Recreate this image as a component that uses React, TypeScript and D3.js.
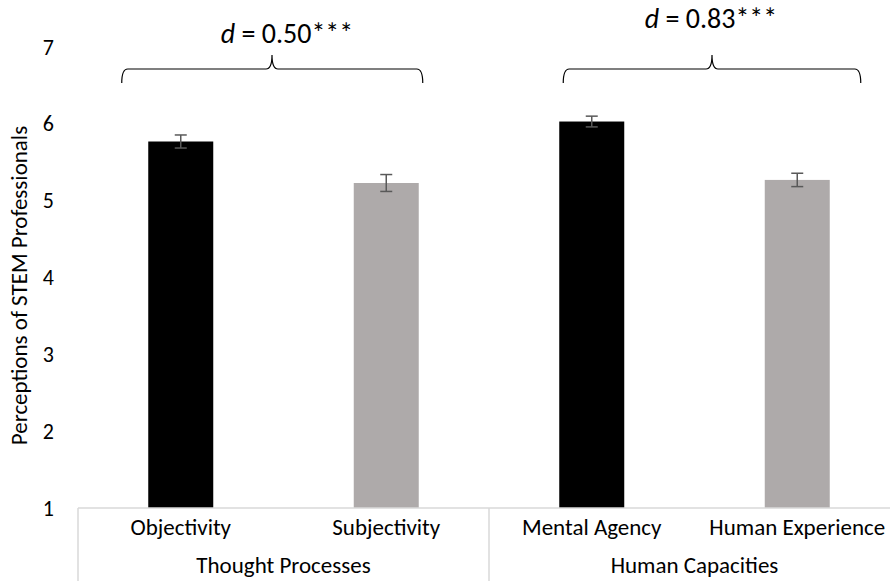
import React from "react";
import * as d3 from "d3";

const categories = ["Objectivity", "Subjectivity", "Mental Agency", "Human Experience"];
const groups = ["Thought Processes", "Human Capacities"];
const means = [5.77, 5.23, 6.03, 5.27];
const errors = [0.085, 0.11, 0.07, 0.087];
const barColors = ["#000000", "#AEAAAA", "#000000", "#AEAAAA"];
const effectLabels = [" = 0.50***", " = 0.83***"];
const yTicks = [1, 2, 3, 4, 5, 6, 7];

const W = 890;
const H = 581;
const FONT = "Carlito, Calibri, Lato, 'Noto Sans', sans-serif";

export default function App() {
  const plotLeft = 78;
  const plotRight = 900;
  const yTop = 47;
  const yBottom = 508;

  const x = d3.scaleBand<string>().domain(categories).range([plotLeft, plotRight]);
  const y = d3.scaleLinear().domain([1, 7]).range([yBottom, yTop]);
  const bw = 65;

  const groupX = (gi: number) => {
    const a = x(categories[gi * 2])!;
    const b = x(categories[gi * 2 + 1])! + x.bandwidth();
    return [a, b];
  };

  const bracketSpec = [
    { x0: x(categories[0])! + x.bandwidth() / 2 - 59, x1: x(categories[1])! + x.bandwidth() / 2 + 36.5, tip: 272, tx: 287, ty: 43 },
    { x0: x(categories[2])! + x.bandwidth() / 2 - 28.5, x1: x(categories[3])! + x.bandwidth() / 2 + 63.5, tip: 712, tx: 711, ty: 28 },
  ];

  const bracketPath = (x0: number, x1: number, xm: number) => {
    const yh = 69, ye = 83, yt = 55, r = 6;
    return `M${x0},${ye} Q${x0},${yh} ${x0 + r},${yh} L${xm - r},${yh} Q${xm},${yh} ${xm},${yt} Q${xm},${yh} ${xm + r},${yh} L${x1 - r},${yh} Q${x1},${yh} ${x1},${ye}`;
  };

  return (
    <svg width={W} height={H} style={{ position: "absolute", left: 0, top: 0, background: "#fff" }} fontFamily={FONT}>
      {/* y ticks */}
      {yTicks.map((t) => (
        <text key={t} x={54} y={y(t)} textAnchor="end" dominantBaseline="central" fontSize={22} fill="#000">
          {t}
        </text>
      ))}
      {/* y title */}
      <text
        transform={`translate(${19},${(yTop + yBottom) / 2 + 8}) rotate(-90)`}
        textAnchor="middle"
        dominantBaseline="central"
        fontSize={23}
        fill="#000"
      >
        Perceptions of STEM Professionals
      </text>

      {/* bars */}
      {categories.map((c, i) => {
        const cx = x(c)! + x.bandwidth() / 2;
        return (
          <rect key={c} x={cx - bw / 2} y={y(means[i])} width={bw} height={yBottom - y(means[i])} fill={barColors[i]} />
        );
      })}
      {/* error bars */}
      {categories.map((c, i) => {
        const cx = x(c)! + x.bandwidth() / 2;
        const hi = y(means[i] + errors[i]);
        const lo = y(means[i] - errors[i]);
        return (
          <g key={c} stroke="#595959" strokeWidth={1.5}>
            <line x1={cx} x2={cx} y1={hi} y2={lo} />
            <line x1={cx - 6} x2={cx + 6} y1={hi} y2={hi} />
            <line x1={cx - 6} x2={cx + 6} y1={lo} y2={lo} />
          </g>
        );
      })}

      {/* category axis */}
      <line x1={plotLeft} x2={W} y1={yBottom} y2={yBottom} stroke="#D9D9D9" strokeWidth={1.5} />
      {[0, 1, 2].map((k) => {
        const xx = k < 2 ? groupX(k)[0] : groupX(1)[1];
        return <line key={k} x1={xx} x2={xx} y1={yBottom} y2={H} stroke="#D9D9D9" strokeWidth={1.5} />;
      })}
      {categories.map((c) => (
        <text key={c} x={x(c)! + x.bandwidth() / 2} y={527} textAnchor="middle" dominantBaseline="central" fontSize={23} fill="#000">
          {c}
        </text>
      ))}
      {groups.map((g, gi) => {
        const [a, b] = groupX(gi);
        return (
          <text key={g} x={(a + b) / 2} y={565} textAnchor="middle" dominantBaseline="central" fontSize={23} fill="#000">
            {g}
          </text>
        );
      })}

      {/* brackets & effect sizes */}
      {bracketSpec.map((b, i) => (
        <g key={i}>
          <path d={bracketPath(b.x0, b.x1, b.tip)} fill="none" stroke="#000" strokeWidth={1.2} />
          <text x={b.tx} y={b.ty} textAnchor="middle" fontSize={28} fill="#000">
            <tspan fontStyle="italic">d</tspan>
            {effectLabels[i]}
          </text>
        </g>
      ))}
    </svg>
  );
}
